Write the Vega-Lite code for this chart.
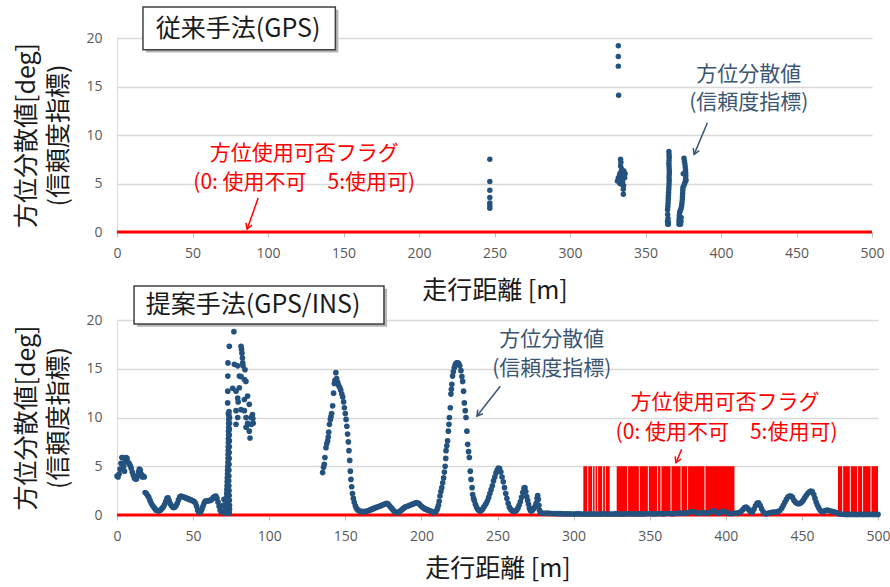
{
  "$schema": "https://vega.github.io/schema/vega-lite/v6.json",
  "background": "white",
  "padding": {"left": 14, "top": 6, "right": 5, "bottom": 5},
  "bounds": "flush",
  "spacing": 88,
  "config": {
    "view": {"stroke": null},
    "font": "Noto Sans CJK JP",
    "axis": {"labelFont": "Open Sans", "labelFontSize": 14, "labelColor": "#595959", "titleFont": "Noto Sans CJK JP", "titleFontSize": 25, "titleFontWeight": "normal", "titleColor": "#1a1a1a", "gridColor": "#d9d9d9", "gridWidth": 1.5, "domainColor": "#bfbfbf", "tickColor": "#bfbfbf", "titleLimit": 400},
    "axisX": {"grid": false, "tickSize": 5, "labelPadding": 9, "labelFlush": false},
    "axisY": {"ticks": false, "labelPadding": 15, "titlePadding": 14, "titleLineHeight": 32, "domainColor": "#d9d9d9", "labelFlush": false}
  },
  "datasets": {
    "gps": [
      {"d":246.9,"v":7.5},{"d":246.9,"v":5.2},{"d":246.9,"v":4.3},{"d":246.9,"v":3.55},{"d":246.9,"v":3.0},{"d":246.9,"v":2.7},{"d":246.9,"v":2.45},
      {"d":332.0,"v":19.2},{"d":332.0,"v":18.1},{"d":332.0,"v":17.1},{"d":332.2,"v":14.1},
      {"d":333.5,"v":7.5},{"d":333.7,"v":7.2},{"d":333.5,"v":6.8},{"d":334.2,"v":6.5},{"d":335.7,"v":6.3},{"d":332.9,"v":5.95},{"d":333.4,"v":6.1},{"d":334.0,"v":5.8},{"d":336.2,"v":5.6},{"d":335.0,"v":5.7},{"d":331.4,"v":5.25},{"d":332.5,"v":5.4},{"d":334.5,"v":4.9},{"d":335.3,"v":4.4},{"d":335.3,"v":3.9},{"d":333.0,"v":5.0},{"d":336.5,"v":6.0},{"d":334.8,"v":5.2},{"d":335.5,"v":4.8},{"d":332.0,"v":5.6},
      {"d":364.8,"v":0.8},{"d":364.6,"v":1.1},{"d":364.9,"v":1.4},{"d":364.7,"v":1.8},{"d":364.6,"v":2.3},{"d":364.8,"v":2.6},{"d":364.9,"v":2.9},{"d":365.0,"v":3.2},{"d":365.1,"v":3.5},{"d":365.2,"v":3.8},{"d":365.3,"v":4.1},{"d":365.4,"v":4.4},{"d":365.5,"v":4.7},{"d":365.6,"v":5.0},{"d":365.7,"v":5.3},{"d":365.6,"v":5.6},{"d":365.7,"v":5.9},{"d":365.8,"v":6.2},{"d":365.7,"v":6.5},{"d":365.6,"v":6.8},{"d":365.5,"v":7.1},{"d":365.6,"v":7.4},{"d":365.7,"v":7.7},{"d":365.6,"v":8.0},{"d":365.5,"v":8.3},{"d":365.1,"v":1.0},{"d":365.1,"v":0.8},
      {"d":375.5,"v":7.6},{"d":375.8,"v":7.3},{"d":376.1,"v":7.0},{"d":376.3,"v":6.7},{"d":376.5,"v":6.4},{"d":376.6,"v":6.1},{"d":376.7,"v":5.8},{"d":376.6,"v":5.5},{"d":376.4,"v":5.2},{"d":375.9,"v":5.0},{"d":375.4,"v":4.8},{"d":376.8,"v":5.3},{"d":375.0,"v":6.0},
      {"d":374.8,"v":4.6},{"d":374.7,"v":4.3},{"d":374.6,"v":4.0},{"d":374.5,"v":3.7},{"d":374.4,"v":3.4},{"d":374.2,"v":3.1},{"d":374.0,"v":2.8},
      {"d":373.8,"v":2.6},{"d":373.5,"v":2.4},{"d":373.0,"v":2.2},{"d":372.6,"v":2.0},{"d":372.4,"v":1.7},{"d":372.3,"v":1.4},{"d":372.2,"v":1.1},{"d":372.2,"v":0.8},{"d":373.2,"v":0.8},{"d":373.5,"v":1.1},{"d":373.6,"v":1.5},{"d":372.8,"v":1.3}
    ],
    "ins": [
      {"d":0,"v":4.0},{"d":0.7,"v":3.9},{"d":1.4,"v":4.2},{"d":2.0,"v":4.7},{"d":2.6,"v":5.3},{"d":3.2,"v":5.9},{"d":3.8,"v":5.9},{"d":4.4,"v":5.0},{"d":4.9,"v":4.5},{"d":5.4,"v":5.5},{"d":6.0,"v":5.9},{"d":6.6,"v":5.8},{"d":7.2,"v":5.4},{"d":7.9,"v":5.3},{"d":8.6,"v":5.1},{"d":9.3,"v":4.8},{"d":10.0,"v":4.4},{"d":10.7,"v":4.1},{"d":11.4,"v":3.8},{"d":12.1,"v":3.7},{"d":12.8,"v":3.7},{"d":13.5,"v":4.0},{"d":14.1,"v":4.4},{"d":14.7,"v":4.7},{"d":15.3,"v":4.6},{"d":15.9,"v":4.2},{"d":16.6,"v":3.9},{"d":17.3,"v":4.0},{"d":17.9,"v":3.9},
      {"d":18.5,"v":2.3},{"d":19.3,"v":2.2},{"d":20.1,"v":2.0},{"d":20.9,"v":1.8},{"d":21.7,"v":1.5},{"d":22.5,"v":1.2},{"d":23.3,"v":1.0},{"d":24.1,"v":0.8},{"d":24.9,"v":0.65},{"d":25.7,"v":0.5},{"d":26.5,"v":0.45},{"d":27.3,"v":0.4},{"d":28.1,"v":0.45},{"d":28.9,"v":0.55},{"d":29.7,"v":0.7},{"d":30.5,"v":0.85},{"d":31.3,"v":1.1},{"d":32.1,"v":1.4},{"d":32.8,"v":1.7},{"d":33.5,"v":1.75},{"d":34.2,"v":1.5},{"d":34.9,"v":1.2},{"d":35.6,"v":1.0},{"d":36.4,"v":0.85},{"d":37.2,"v":0.75},{"d":38.0,"v":0.8},{"d":38.8,"v":0.95},{"d":39.6,"v":1.2},{"d":40.4,"v":1.55},{"d":41.2,"v":1.85},{"d":42.0,"v":1.95},{"d":42.8,"v":1.9},{"d":43.6,"v":1.85},{"d":44.4,"v":1.8},{"d":45.2,"v":1.75},{"d":46.0,"v":1.7},{"d":46.8,"v":1.65},{"d":47.6,"v":1.6},{"d":48.4,"v":1.55},{"d":49.2,"v":1.5},{"d":50.0,"v":1.45},{"d":50.8,"v":1.35},{"d":51.6,"v":1.2},{"d":52.3,"v":0.9},{"d":53.0,"v":0.5},{"d":53.7,"v":0.3},{"d":54.4,"v":0.25},{"d":55.1,"v":0.35},{"d":55.8,"v":0.6},{"d":56.5,"v":0.9},{"d":57.2,"v":1.2},{"d":57.9,"v":1.4},{"d":58.6,"v":1.45},{"d":59.4,"v":1.45},{"d":60.2,"v":1.45},{"d":61.0,"v":1.5},{"d":61.8,"v":1.55},{"d":62.6,"v":1.65},{"d":63.4,"v":1.8},{"d":64.2,"v":1.9},{"d":65.0,"v":1.95},{"d":65.7,"v":1.7},{"d":66.4,"v":1.3},{"d":67.1,"v":0.9},{"d":67.8,"v":0.5},{"d":68.5,"v":0.3},{"d":69.2,"v":0.4},{"d":69.8,"v":1.0},{"d":70.3,"v":1.6},{"d":70.7,"v":1.0},{"d":71.0,"v":0.4},
      {"d":71.3,"v":0.2},{"d":71.5,"v":0.6},{"d":71.7,"v":1.0},{"d":71.9,"v":1.4},{"d":72.0,"v":1.8},{"d":72.1,"v":2.2},{"d":72.2,"v":2.6},{"d":72.3,"v":3.0},{"d":72.4,"v":3.4},{"d":72.5,"v":3.8},{"d":72.6,"v":4.2},{"d":72.7,"v":4.6},{"d":72.8,"v":5.0},{"d":72.9,"v":5.4},{"d":73.0,"v":5.8},{"d":73.0,"v":6.2},{"d":73.1,"v":6.6},{"d":73.1,"v":7.0},{"d":73.2,"v":7.4},{"d":73.2,"v":7.8},{"d":73.3,"v":8.2},{"d":73.3,"v":8.6},{"d":73.4,"v":9.0},{"d":73.4,"v":9.4},{"d":73.5,"v":9.8},{"d":73.5,"v":10.2},{"d":73.6,"v":10.6},{"d":73.2,"v":10.4},{"d":73.8,"v":0.2},{"d":73.9,"v":0.6},{"d":73.9,"v":1.0},{"d":73.8,"v":1.5},{"d":73.7,"v":2.0},{"d":73.6,"v":2.5},{"d":73.5,"v":3.0},{"d":73.4,"v":3.5},{"d":73.5,"v":4.0},{"d":73.5,"v":4.6},{"d":73.6,"v":5.2},{"d":73.7,"v":5.8},{"d":73.7,"v":6.4},{"d":73.8,"v":7.0},{"d":73.8,"v":7.6},{"d":73.8,"v":8.2},{"d":73.8,"v":8.8},{"d":73.9,"v":9.4},{"d":73.9,"v":10.0},{"d":72.6,"v":0.2},{"d":72.8,"v":0.8},
      {"d":72.7,"v":11.5},{"d":72.8,"v":12.7},{"d":72.8,"v":14.25},{"d":72.9,"v":15.6},{"d":73.8,"v":17.3},{"d":76.8,"v":18.8},{"d":77.1,"v":15.45},{"d":76.0,"v":13.0},{"d":78.2,"v":12.7},{"d":79.3,"v":12.0},{"d":78.2,"v":10.7},{"d":79.3,"v":10.0},{"d":78.2,"v":9.3},{"d":80.4,"v":13.05},{"d":79.3,"v":15.3},{"d":80.4,"v":14.25},{"d":81.5,"v":17.3},{"d":81.8,"v":17.0},{"d":82.1,"v":16.6},{"d":82.4,"v":16.1},{"d":82.6,"v":15.6},{"d":82.8,"v":15.3},{"d":83.7,"v":13.9},{"d":84.1,"v":14.9},{"d":84.7,"v":13.7},{"d":83.7,"v":11.85},{"d":85.8,"v":12.2},{"d":81.5,"v":10.8},{"d":79.6,"v":11.6},{"d":83.7,"v":10.7},{"d":84.8,"v":10.0},{"d":84.8,"v":9.0},{"d":85.9,"v":9.3},{"d":86.9,"v":11.35},{"d":86.9,"v":8.6},{"d":87.4,"v":7.9},{"d":88.0,"v":10.0},{"d":88.3,"v":9.3},{"d":89.0,"v":10.3},{"d":89.3,"v":9.9},{"d":89.5,"v":9.4},{"d":85.8,"v":9.4},{"d":81.5,"v":14.2},
      {"d":135.1,"v":4.35},{"d":135.7,"v":4.9},{"d":136.2,"v":5.2},{"d":136.6,"v":5.9},{"d":137.3,"v":6.9},{"d":137.8,"v":7.3},{"d":138.4,"v":7.6},{"d":138.8,"v":8.0},{"d":139.1,"v":8.5},{"d":139.6,"v":9.3},{"d":140.2,"v":9.8},{"d":140.6,"v":10.1},{"d":141.0,"v":10.4},{"d":141.7,"v":11.2},{"d":142.3,"v":12.5},{"d":142.8,"v":13.5},{"d":143.2,"v":13.8},{"d":143.8,"v":14.6},{"d":144.3,"v":14.0},{"d":145.0,"v":13.6},{"d":145.6,"v":13.3},{"d":146.3,"v":13.1},{"d":147.0,"v":12.8},{"d":147.7,"v":12.4},{"d":148.3,"v":12.1},{"d":148.9,"v":11.6},{"d":149.4,"v":11.0},{"d":150.0,"v":10.4},{"d":150.5,"v":9.8},{"d":151.0,"v":9.1},{"d":151.5,"v":8.3},{"d":152.0,"v":7.5},{"d":152.4,"v":6.6},{"d":152.9,"v":5.6},{"d":153.3,"v":4.5},{"d":153.7,"v":3.65},{"d":154.2,"v":2.9},{"d":154.7,"v":2.2},{"d":155.3,"v":1.7},{"d":155.9,"v":1.3},{"d":156.6,"v":0.95},{"d":157.3,"v":0.7},{"d":158.0,"v":0.55},{"d":158.8,"v":0.45},{"d":159.6,"v":0.4},{"d":160.4,"v":0.35},
      {"d":161.2,"v":0.35},{"d":162.0,"v":0.35},{"d":162.8,"v":0.35},{"d":163.6,"v":0.38},{"d":164.4,"v":0.4},{"d":165.2,"v":0.45},{"d":166.0,"v":0.5},{"d":166.8,"v":0.55},{"d":167.6,"v":0.6},{"d":168.4,"v":0.65},{"d":169.2,"v":0.7},{"d":170.0,"v":0.75},{"d":170.8,"v":0.8},{"d":171.6,"v":0.85},{"d":172.4,"v":0.9},{"d":173.2,"v":0.95},{"d":174.0,"v":1.0},{"d":174.8,"v":1.05},{"d":175.6,"v":1.1},{"d":176.4,"v":1.15},{"d":177.2,"v":1.2},{"d":178.0,"v":1.15},{"d":178.8,"v":1.0},{"d":179.6,"v":0.85},{"d":180.4,"v":0.7},{"d":181.2,"v":0.55},{"d":182.0,"v":0.4},{"d":182.8,"v":0.3},{"d":183.6,"v":0.25},{"d":184.4,"v":0.25},{"d":185.2,"v":0.3},{"d":186.0,"v":0.4},{"d":186.8,"v":0.5},{"d":187.6,"v":0.6},{"d":188.4,"v":0.7},{"d":189.2,"v":0.8},{"d":190.0,"v":0.85},{"d":190.8,"v":0.9},{"d":191.6,"v":0.95},{"d":192.4,"v":1.0},{"d":193.2,"v":1.05},{"d":194.0,"v":1.1},{"d":194.8,"v":1.15},{"d":195.6,"v":1.2},{"d":196.4,"v":1.25},{"d":197.2,"v":1.25},{"d":198.0,"v":1.2},{"d":198.8,"v":1.1},{"d":199.6,"v":0.95},{"d":200.4,"v":0.85},{"d":201.2,"v":0.75},{"d":202.0,"v":0.65},{"d":202.8,"v":0.6},{"d":203.6,"v":0.55},{"d":204.4,"v":0.5},{"d":205.2,"v":0.45},{"d":206.0,"v":0.4},{"d":206.8,"v":0.35},{"d":207.6,"v":0.3},{"d":208.4,"v":0.25},{"d":209.2,"v":0.3},{"d":210.0,"v":0.45},{"d":210.6,"v":0.7},{"d":211.2,"v":1.0},{"d":211.7,"v":1.4},
      {"d":212.2,"v":1.95},{"d":212.8,"v":2.4},{"d":213.4,"v":2.8},{"d":214.0,"v":3.3},{"d":214.6,"v":3.8},{"d":215.1,"v":4.4},{"d":215.6,"v":5.0},{"d":216.0,"v":5.8},{"d":216.2,"v":6.6},{"d":216.7,"v":7.1},{"d":217.2,"v":7.6},{"d":217.7,"v":8.6},{"d":218.1,"v":9.3},{"d":218.4,"v":10.0},{"d":219.0,"v":11.0},{"d":219.4,"v":12.4},{"d":219.7,"v":12.9},{"d":220.0,"v":13.4},{"d":220.5,"v":14.25},{"d":221.0,"v":14.7},{"d":221.6,"v":15.1},{"d":222.2,"v":15.4},{"d":222.8,"v":15.55},{"d":223.4,"v":15.6},{"d":224.0,"v":15.6},{"d":224.6,"v":15.5},{"d":225.2,"v":15.3},{"d":226.0,"v":14.8},{"d":226.6,"v":14.2},{"d":227.1,"v":13.7},{"d":227.7,"v":12.7},{"d":228.2,"v":11.5},{"d":228.8,"v":10.7},{"d":229.3,"v":10.0},{"d":229.9,"v":8.6},{"d":230.4,"v":7.25},{"d":231.0,"v":6.5},{"d":231.5,"v":5.9},{"d":232.1,"v":4.5},{"d":232.6,"v":3.65},{"d":233.3,"v":2.8},{"d":233.7,"v":2.1},{"d":234.3,"v":1.7},{"d":234.8,"v":1.45},{"d":235.5,"v":1.1},{"d":236.2,"v":0.8},{"d":237.0,"v":0.6},{"d":237.8,"v":0.45},{"d":238.6,"v":0.4},{"d":239.4,"v":0.45},{"d":240.2,"v":0.6},{"d":241.0,"v":0.8},{"d":241.8,"v":1.0},{"d":242.6,"v":1.2},{"d":243.4,"v":1.45},{"d":244.2,"v":1.8},{"d":245.0,"v":2.2},{"d":245.8,"v":2.6},{"d":246.6,"v":3.0},{"d":247.4,"v":3.5},{"d":248.2,"v":3.9},{"d":249.0,"v":4.3},{"d":249.8,"v":4.6},{"d":250.6,"v":4.8},{"d":251.4,"v":4.75},{"d":252.2,"v":4.4},{"d":253.0,"v":3.9},{"d":253.8,"v":3.4},{"d":254.6,"v":2.8},{"d":255.4,"v":2.2},{"d":256.2,"v":1.7},{"d":257.0,"v":1.2},{"d":257.8,"v":0.8},{"d":258.6,"v":0.6},{"d":259.4,"v":0.45},{"d":260.2,"v":0.4},{"d":261.0,"v":0.4},{"d":261.8,"v":0.4},{"d":262.6,"v":0.5},{"d":263.4,"v":0.7},{"d":264.2,"v":1.0},{"d":265.0,"v":1.35},{"d":265.8,"v":1.8},{"d":266.6,"v":2.3},{"d":267.4,"v":2.75},{"d":268.0,"v":2.8},{"d":268.6,"v":2.4},{"d":269.2,"v":1.9},{"d":269.8,"v":1.5},{"d":270.4,"v":1.1},{"d":271.0,"v":0.7},{"d":271.6,"v":0.45},{"d":272.4,"v":0.4},{"d":273.2,"v":0.55},{"d":274.0,"v":0.7},{"d":274.8,"v":0.9},{"d":275.4,"v":1.2},{"d":276.0,"v":1.7},{"d":276.4,"v":2.0},{"d":276.8,"v":1.6},{"d":277.2,"v":1.0},{"d":277.6,"v":0.5},{"d":278.2,"v":0.25},
      {"d":279.5,"v":0.2},{"d":281,"v":0.18},{"d":282.5,"v":0.2},{"d":284,"v":0.17},{"d":285.5,"v":0.15},{"d":287,"v":0.15},{"d":288.5,"v":0.14},{"d":290,"v":0.14},{"d":291.5,"v":0.14},{"d":293,"v":0.13},{"d":294.5,"v":0.12},{"d":296,"v":0.12},{"d":297.5,"v":0.12},{"d":299,"v":0.1},{"d":300.5,"v":0.1},{"d":302,"v":0.12},{"d":303.5,"v":0.12},{"d":305,"v":0.1},{"d":306.5,"v":0.1},{"d":308,"v":0.1},{"d":309.5,"v":0.1},{"d":311,"v":0.1},{"d":312.5,"v":0.1},{"d":314,"v":0.1},{"d":315.5,"v":0.1},{"d":317,"v":0.1},{"d":318.5,"v":0.12},{"d":320,"v":0.12},{"d":321.5,"v":0.1},{"d":323,"v":0.1},{"d":324.5,"v":0.1},{"d":326,"v":0.1},{"d":327.5,"v":0.12},{"d":329,"v":0.12},{"d":330.5,"v":0.1},{"d":332,"v":0.1},{"d":333.5,"v":0.1},{"d":335,"v":0.12},{"d":336.5,"v":0.14},{"d":338,"v":0.12},{"d":339.5,"v":0.1},{"d":341,"v":0.1},{"d":342.5,"v":0.12},{"d":344,"v":0.12},{"d":345.5,"v":0.1},{"d":347,"v":0.12},{"d":348.5,"v":0.15},{"d":350,"v":0.15},{"d":351.5,"v":0.12},{"d":353,"v":0.12},{"d":354.5,"v":0.14},{"d":356,"v":0.15},{"d":357.5,"v":0.14},{"d":359,"v":0.12},{"d":360.5,"v":0.15},{"d":362,"v":0.18},{"d":363.5,"v":0.15},{"d":365,"v":0.12},{"d":366.5,"v":0.15},{"d":368,"v":0.18},{"d":369.5,"v":0.2},{"d":371,"v":0.2},{"d":372.5,"v":0.18},{"d":374,"v":0.2},{"d":375.5,"v":0.25},{"d":377,"v":0.35},{"d":378.5,"v":0.35},{"d":380,"v":0.25},{"d":381.5,"v":0.2},{"d":383,"v":0.2},{"d":384.5,"v":0.25},{"d":386,"v":0.22},{"d":387.5,"v":0.2},{"d":389,"v":0.25},{"d":390.5,"v":0.35},{"d":392,"v":0.45},{"d":393.5,"v":0.3},{"d":395,"v":0.2},{"d":396.5,"v":0.25},{"d":398,"v":0.4},{"d":399.5,"v":0.35},{"d":401,"v":0.2},{"d":402.5,"v":0.15},{"d":404,"v":0.15},{"d":405.5,"v":0.2},{"d":407,"v":0.2},{"d":408.5,"v":0.25},{"d":410,"v":0.35},
      {"d":411.2,"v":0.55},{"d":412.3,"v":0.75},{"d":413.4,"v":0.8},{"d":414.5,"v":0.65},{"d":415.5,"v":0.45},{"d":416.5,"v":0.3},{"d":417.5,"v":0.3},{"d":418.5,"v":0.6},{"d":419.5,"v":0.95},{"d":420.5,"v":1.2},{"d":421.5,"v":1.25},{"d":422.5,"v":1.0},{"d":423.5,"v":0.65},{"d":424.5,"v":0.35},{"d":425.5,"v":0.15},{"d":426.5,"v":0.12},{"d":428,"v":0.2},{"d":429.5,"v":0.25},{"d":431,"v":0.3},{"d":432.5,"v":0.3},{"d":434,"v":0.35},{"d":435.5,"v":0.45},{"d":436.8,"v":0.7},{"d":437.8,"v":1.0},{"d":438.8,"v":1.3},{"d":439.8,"v":1.6},{"d":440.8,"v":1.85},{"d":441.8,"v":1.95},{"d":442.8,"v":1.95},{"d":443.8,"v":1.8},{"d":444.8,"v":1.5},{"d":445.8,"v":1.3},{"d":446.8,"v":1.2},{"d":447.8,"v":1.15},{"d":448.8,"v":1.2},{"d":449.8,"v":1.3},{"d":450.8,"v":1.5},{"d":451.8,"v":1.75},{"d":452.8,"v":2.0},{"d":453.8,"v":2.2},{"d":454.8,"v":2.35},{"d":455.8,"v":2.45},{"d":456.8,"v":2.4},{"d":457.8,"v":2.1},{"d":458.6,"v":1.7},{"d":459.4,"v":1.3},{"d":460.2,"v":1.0},{"d":461.0,"v":0.75},{"d":462,"v":0.5},{"d":463,"v":0.35},{"d":464.2,"v":0.35},{"d":465.4,"v":0.45},{"d":466.6,"v":0.5},{"d":467.8,"v":0.45},{"d":469,"v":0.4},{"d":470.2,"v":0.35},{"d":471.4,"v":0.3},{"d":472.6,"v":0.25},{"d":473.8,"v":0.15},{"d":475,"v":0.1},{"d":476.5,"v":0.08},{"d":478,"v":0.06},{"d":479.5,"v":0.06},{"d":481,"v":0.06},{"d":482.5,"v":0.07},{"d":484,"v":0.06},{"d":485.5,"v":0.06},{"d":487,"v":0.06},{"d":488.5,"v":0.07},{"d":490,"v":0.06},{"d":491.5,"v":0.06},{"d":493,"v":0.06},{"d":494.5,"v":0.07},{"d":496,"v":0.06},{"d":497.5,"v":0.06},{"d":499,"v":0.06},{"d":500,"v":0.06}
    ],
    "flagTop": [{"d":0,"v":0},{"d":500,"v":0}],
    "flagIns": [
      {"d":0,"v":0},{"d":306.4,"v":5},{"d":309.0,"v":0},{"d":309.6,"v":5},{"d":312.2,"v":0},{"d":312.8,"v":5},{"d":313.8,"v":0},{"d":314.4,"v":5},{"d":315.5,"v":0},{"d":316.1,"v":5},{"d":318.8,"v":0},{"d":319.4,"v":5},{"d":320.6,"v":0},{"d":321.2,"v":5},{"d":323.7,"v":0},{"d":328.3,"v":5},{"d":335.2,"v":0},{"d":335.8,"v":5},{"d":342.9,"v":0},{"d":343.5,"v":5},{"d":348.8,"v":0},{"d":349.4,"v":5},{"d":354.9,"v":0},{"d":355.5,"v":5},{"d":357.1,"v":0},{"d":357.7,"v":5},{"d":363.7,"v":0},{"d":364.3,"v":5},{"d":370.3,"v":0},{"d":370.9,"v":5},{"d":374.6,"v":0},{"d":375.2,"v":5},{"d":386.0,"v":0},{"d":386.6,"v":5},{"d":405.7,"v":0},{"d":473.7,"v":5},{"d":476.5,"v":0},{"d":477.1,"v":5},{"d":481.5,"v":0},{"d":482.1,"v":5},{"d":486.3,"v":0},{"d":486.9,"v":5},{"d":489.6,"v":0},{"d":490.2,"v":5},{"d":495.1,"v":0},{"d":495.7,"v":5},{"d":500,"v":5}
    ]
  },
  "vconcat": [
    {
      "width": 755,
      "height": 194,
      "encoding": {
        "x": {"field": "d", "type": "quantitative", "scale": {"domain": [0, 500], "nice": false}, "axis": {"values": [0,50,100,150,200,250,300,350,400,450,500], "title": "走行距離 [m]", "titlePadding": 18}},
        "y": {"field": "v", "type": "quantitative", "scale": {"domain": [0, 20], "nice": false}, "axis": {"values": [0,5,10,15,20], "title": ["方位分散値[deg]", "(信頼度指標)"]}}
      },
      "layer": [
        {"data": {"name": "flagTop"}, "mark": {"type": "line", "color": "#ff0000", "strokeWidth": 3}},
        {"data": {"name": "gps"}, "mark": {"type": "point", "filled": true, "size": 30, "color": "#24527f", "opacity": 1}},
        {"data": {"values": [{"d": 19.2, "v": 22.9, "d2": 146.6, "v2": 18.5}]}, "mark": {"type": "rect", "color": "#b5b5b5"}, "encoding": {"x2": {"field": "d2"}, "y2": {"field": "v2"}}},
        {"data": {"values": [{"d": 17.2, "v": 23.2, "d2": 144.6, "v2": 18.8}]}, "mark": {"type": "rect", "fill": "white", "stroke": "#404040", "strokeWidth": 1.5}, "encoding": {"x2": {"field": "d2"}, "y2": {"field": "v2"}}},
        {"data": {"values": [{"d": 80.2, "v": 20.9, "t": "従来手法(GPS)"}]}, "mark": {"type": "text", "font": "Noto Sans CJK JP", "fontSize": 25, "color": "#1a1a1a", "align": "center", "baseline": "middle"}, "encoding": {"text": {"field": "t"}}},
        {"data": {"values": [{"d": 124, "v": 8.0, "t": "方位使用可否フラグ"}, {"d": 124, "v": 5.05, "t": "(0: 使用不可\u30005:使用可)"}]}, "mark": {"type": "text", "font": "Noto Sans CJK JP", "fontSize": 21, "color": "#ff0000", "align": "center", "baseline": "middle"}, "encoding": {"text": {"field": "t"}}},
        {"data": {"values": [{"d": 418.4, "v": 16.2, "t": "方位分散値"}, {"d": 418.4, "v": 13.3, "t": "(信頼度指標)"}]}, "mark": {"type": "text", "font": "Noto Sans CJK JP", "fontSize": 21, "color": "#3b5673", "align": "center", "baseline": "middle"}, "encoding": {"text": {"field": "t"}}},
        {"data": {"values": [{"d": 93.5, "v": 3.5, "d2": 86.2, "v2": 0.3}]}, "mark": {"type": "rule", "color": "#ff0000", "strokeWidth": 1.5}, "encoding": {"x2": {"field": "d2"}, "y2": {"field": "v2"}}},
        {"data": {"values": [{"d": 86.2, "v": 0.3}]}, "mark": {"type": "point", "shape": "M-0.6,-1L0,0L0.6,-1", "filled": false, "stroke": "#ff0000", "strokeWidth": 1.5, "size": 120, "angle": 19.5, "opacity": 1}},
        {"data": {"values": [{"d": 391, "v": 11.27, "d2": 382.2, "v2": 8.0}]}, "mark": {"type": "rule", "color": "#3b5673", "strokeWidth": 1.5}, "encoding": {"x2": {"field": "d2"}, "y2": {"field": "v2"}}},
        {"data": {"values": [{"d": 382.2, "v": 8.0}]}, "mark": {"type": "point", "shape": "M-0.6,-1L0,0L0.6,-1", "filled": false, "stroke": "#3b5673", "strokeWidth": 1.5, "size": 120, "angle": 23, "opacity": 1}}
      ]
    },
    {
      "width": 761,
      "height": 195,
      "encoding": {
        "x": {"field": "d", "type": "quantitative", "scale": {"domain": [0, 500], "nice": false}, "axis": {"values": [0,50,100,150,200,250,300,350,400,450,500], "title": "走行距離 [m]", "titlePadding": 13}},
        "y": {"field": "v", "type": "quantitative", "scale": {"domain": [0, 20], "nice": false}, "axis": {"values": [0,5,10,15,20], "title": ["方位分散値[deg]", "(信頼度指標)"]}}
      },
      "layer": [
        {"data": {"name": "flagIns"}, "mark": {"type": "area", "color": "#ff0000", "interpolate": "step-after", "opacity": 1}},
        {"data": {"values": [{"d": 0, "v": 0}, {"d": 500, "v": 0}]}, "mark": {"type": "line", "color": "#ff0000", "strokeWidth": 3}},
        {"data": {"name": "ins"}, "mark": {"type": "point", "filled": true, "size": 32, "color": "#24527f", "opacity": 1}},
        {"data": {"values": [{"d": 13.2, "v": 23.2, "d2": 177.4, "v2": 19.3}]}, "mark": {"type": "rect", "color": "#b5b5b5"}, "encoding": {"x2": {"field": "d2"}, "y2": {"field": "v2"}}},
        {"data": {"values": [{"d": 11.2, "v": 23.5, "d2": 175.4, "v2": 19.6}]}, "mark": {"type": "rect", "fill": "white", "stroke": "#404040", "strokeWidth": 1.5}, "encoding": {"x2": {"field": "d2"}, "y2": {"field": "v2"}}},
        {"data": {"values": [{"d": 89.4, "v": 21.5, "t": "提案手法(GPS/INS)"}]}, "mark": {"type": "text", "font": "Noto Sans CJK JP", "fontSize": 25, "color": "#1a1a1a", "align": "center", "baseline": "middle"}, "encoding": {"text": {"field": "t"}}},
        {"data": {"values": [{"d": 399.5, "v": 11.5, "t": "方位使用可否フラグ"}, {"d": 400.5, "v": 8.45, "t": "(0: 使用不可\u30005:使用可)"}]}, "mark": {"type": "text", "font": "Noto Sans CJK JP", "fontSize": 21, "color": "#ff0000", "align": "center", "baseline": "middle"}, "encoding": {"text": {"field": "t"}}},
        {"data": {"values": [{"d": 285.7, "v": 17.95, "t": "方位分散値"}, {"d": 285.7, "v": 15.0, "t": "(信頼度指標)"}]}, "mark": {"type": "text", "font": "Noto Sans CJK JP", "fontSize": 21, "color": "#3b5673", "align": "center", "baseline": "middle"}, "encoding": {"text": {"field": "t"}}},
        {"data": {"values": [{"d": 251.8, "v": 13.2, "d2": 236.5, "v2": 10.15}]}, "mark": {"type": "rule", "color": "#3b5673", "strokeWidth": 1.5}, "encoding": {"x2": {"field": "d2"}, "y2": {"field": "v2"}}},
        {"data": {"values": [{"d": 236.5, "v": 10.15}]}, "mark": {"type": "point", "shape": "M-0.6,-1L0,0L0.6,-1", "filled": false, "stroke": "#3b5673", "strokeWidth": 1.5, "size": 120, "angle": 38, "opacity": 1}},
        {"data": {"values": [{"d": 371, "v": 6.74, "d2": 367.3, "v2": 5.36}]}, "mark": {"type": "rule", "color": "#ff0000", "strokeWidth": 1.5}, "encoding": {"x2": {"field": "d2"}, "y2": {"field": "v2"}}},
        {"data": {"values": [{"d": 367.3, "v": 5.36}]}, "mark": {"type": "point", "shape": "M-0.6,-1L0,0L0.6,-1", "filled": false, "stroke": "#ff0000", "strokeWidth": 1.5, "size": 120, "angle": 23, "opacity": 1}}
      ]
    }
  ]
}
